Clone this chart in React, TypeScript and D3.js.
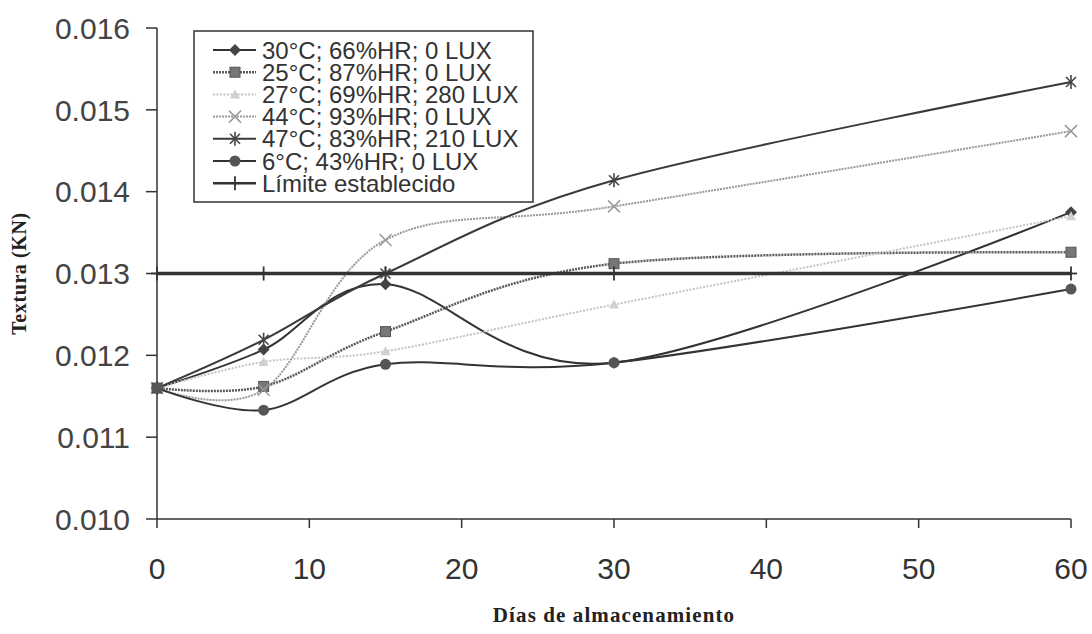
import * as d3 from 'd3';

// storage days and texture readings (KN)
const days = [0, 7, 15, 30, 60];
const s30 = [0.0116, 0.01207, 0.01287, 0.01191, 0.01375];
const s25 = [0.0116, 0.01162, 0.01229, 0.01312, 0.01326];
const s27 = [0.0116, 0.01192, 0.01205, 0.01262, 0.0137];
const s44 = [0.0116, 0.01158, 0.01341, 0.01382, 0.01474];
const s47 = [0.0116, 0.01219, 0.0130, 0.01414, 0.01534];
const s6 = [0.0116, 0.01133, 0.01189, 0.01191, 0.01281];
const limite = [0.013, 0.013, 0.013, 0.013, 0.013];

const yTicks = [0.010, 0.011, 0.012, 0.013, 0.014, 0.015, 0.016];
const xTicks = [0, 10, 20, 30, 40, 50, 60];

const series = [
  { name: '30°C; 66%HR; 0 LUX', values: s30, marker: 'diamond', color: '#333', width: 2, dash: '' },
  { name: '25°C; 87%HR; 0 LUX', values: s25, marker: 'square', color: '#5a5a5a', width: 2.5, dash: '2,1' },
  { name: '27°C; 69%HR; 280 LUX', values: s27, marker: 'triangle', color: '#c4c4c4', width: 2, dash: '2,1.5' },
  { name: '44°C; 93%HR; 0 LUX', values: s44, marker: 'x', color: '#999', width: 2, dash: '2,1' },
  { name: '47°C; 83%HR; 210 LUX', values: s47, marker: 'star', color: '#3a3a3a', width: 2, dash: '' },
  { name: '6°C; 43%HR; 0 LUX', values: s6, marker: 'circle', color: '#333', width: 2, dash: '' },
  { name: 'Límite establecido', values: limite, marker: 'plus', color: '#333', width: 3.5, dash: '' },
];

const W = 1092;
const H = 634;
const x = d3.scaleLinear().domain([0, 60]).range([157, 1071]);
const y = d3.scaleLinear().domain([0.010, 0.016]).range([519, 28]);

const Marker = ({ type, cx, cy }: { type: string; cx: number; cy: number }) => {
  switch (type) {
    case 'diamond':
      return <polygon points={`${cx},${cy - 6} ${cx + 6},${cy} ${cx},${cy + 6} ${cx - 6},${cy}`} fill="#444" />;
    case 'square':
      return <rect x={cx - 5} y={cy - 5} width={10} height={10} fill="#777" stroke="#555" strokeWidth={1} />;
    case 'triangle':
      return <polygon points={`${cx},${cy - 5} ${cx + 5},${cy + 4} ${cx - 5},${cy + 4}`} fill="#d0d0d0" />;
    case 'x':
      return (
        <g stroke="#999" strokeWidth={1.5}>
          <line x1={cx - 6} y1={cy - 6} x2={cx + 6} y2={cy + 6} />
          <line x1={cx - 6} y1={cy + 6} x2={cx + 6} y2={cy - 6} />
        </g>
      );
    case 'star':
      return (
        <g stroke="#444" strokeWidth={1.6}>
          <line x1={cx - 5} y1={cy - 5} x2={cx + 5} y2={cy + 5} />
          <line x1={cx - 5} y1={cy + 5} x2={cx + 5} y2={cy - 5} />
          <line x1={cx} y1={cy - 7} x2={cx} y2={cy + 7} />
        </g>
      );
    case 'circle':
      return <circle cx={cx} cy={cy} r={5.5} fill="#555" />;
    case 'plus':
      return (
        <g stroke="#333" strokeWidth={1.8}>
          <line x1={cx - 6} y1={cy} x2={cx + 6} y2={cy} />
          <line x1={cx} y1={cy - 7} x2={cx} y2={cy + 7} />
        </g>
      );
    default:
      return null;
  }
};

const App = () => {
  const line = d3
    .line<number>()
    .x((_, i) => x(days[i]))
    .y((d) => y(d))
    .curve(d3.curveCatmullRom.alpha(0));
  const straight = d3
    .line<number>()
    .x((_, i) => x(days[i]))
    .y((d) => y(d));

  const sans = '"Liberation Sans", Arial, sans-serif';
  const serif = '"Liberation Serif", "Times New Roman", serif';

  return (
    <svg width={W} height={H} style={{ position: 'absolute', left: 0, top: 0, background: '#fff' }}>
      {/* axes */}
      <line x1={x(0)} y1={y(0.016)} x2={x(0)} y2={y(0.010)} stroke="#333" strokeWidth={1.5} />
      <line x1={x(0)} y1={y(0.010)} x2={x(60)} y2={y(0.010)} stroke="#333" strokeWidth={1.5} />
      {yTicks.map((t) => (
        <g key={t}>
          <line x1={x(0) - 11} x2={x(0)} y1={y(t)} y2={y(t)} stroke="#333" strokeWidth={1.5} />
          <text x={130} y={y(t)} dy="0.36em" textAnchor="end" fontFamily={sans} fontSize={30} fill="#444">
            {d3.format('.3f')(t)}
          </text>
        </g>
      ))}
      {xTicks.map((t) => (
        <g key={t}>
          <line x1={x(t)} x2={x(t)} y1={y(0.010)} y2={y(0.010) + 9} stroke="#333" strokeWidth={1.5} />
          <text x={x(t)} y={568} dy="0.36em" textAnchor="middle" fontFamily={sans} fontSize={30} fill="#333">
            {t}
          </text>
        </g>
      ))}
      <text x={614} y={614} dy="0.36em" textAnchor="middle" fontFamily={serif} fontWeight="bold" fontSize={21} letterSpacing={1.1} fill="#222">
        Días de almacenamiento
      </text>
      <text transform={`translate(19,${y(0.013)}) rotate(-90)`} dy="0.36em" textAnchor="middle" fontFamily={serif} fontWeight="bold" fontSize={20} letterSpacing={0.6} fill="#222">
        Textura (KN)
      </text>

      {/* series */}
      {series.map((s) => (
        <path
          key={s.name}
          d={(s.marker === 'plus' ? straight(s.values) : line(s.values)) || ''}
          fill="none"
          stroke={s.color}
          strokeWidth={s.width}
          strokeDasharray={s.dash || undefined}
        />
      ))}
      {series.map((s) =>
        s.values.map((v, i) => <Marker key={s.name + i} type={s.marker} cx={x(days[i])} cy={y(v)} />)
      )}

      {/* legend */}
      <rect x={194} y={31} width={339} height={171} fill="#fff" stroke="#333" strokeWidth={1.5} />
      {series.map((s, i) => {
        const ly = 50 + i * 22.2;
        return (
          <g key={s.name}>
            <line x1={213} x2={256} y1={ly} y2={ly} stroke={s.color} strokeWidth={Math.min(s.width, 2.5)} strokeDasharray={s.dash || undefined} />
            <Marker type={s.marker} cx={235} cy={ly} />
            <text x={262} y={ly} dy="0.36em" fontFamily={sans} fontSize={24} fill="#333">
              {s.name}
            </text>
          </g>
        );
      })}
    </svg>
  );
};

export default App;
